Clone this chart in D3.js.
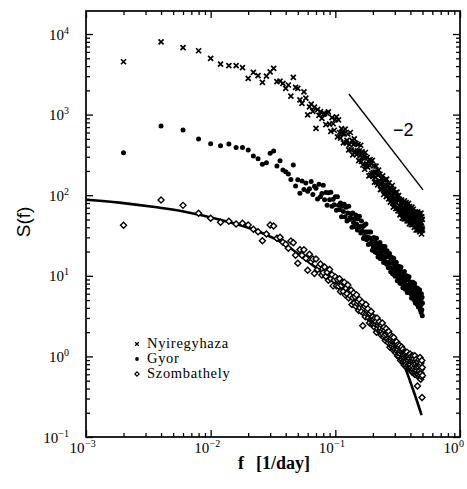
<!DOCTYPE html>
<html><head><meta charset="utf-8">
<script src="https://cdn.jsdelivr.net/npm/d3@7"></script>
<style>
html,body{margin:0;padding:0;background:#fff;}
svg{display:block;}
.serif{font-family:"Liberation Serif","DejaVu Serif",serif;}
.sans{font-family:"Liberation Sans","DejaVu Sans",sans-serif;}
</style></head>
<body>
<svg id="chart" width="467" height="489"></svg>
<script>
// ---------- data ----------
const freq = [
0.002,0.004,0.006,0.008,0.010,0.012,0.014,0.016,0.018,0.020,
0.022,0.024,0.026,0.028,0.030,0.032,0.034,0.036,0.038,0.040,
0.042,0.044,0.046,0.048,0.050,0.052,0.054,0.056,0.058,0.060,
0.062,0.064,0.066,0.068,0.070,0.072,0.074,0.076,0.078,0.080,
0.082,0.084,0.086,0.088,0.090,0.092,0.094,0.096,0.098,0.100,
0.102,0.104,0.106,0.108,0.110,0.112,0.114,0.116,0.118,0.120,
0.122,0.124,0.126,0.128,0.130,0.132,0.134,0.136,0.138,0.140,
0.142,0.144,0.146,0.148,0.150,0.152,0.154,0.156,0.158,0.160,
0.162,0.164,0.166,0.168,0.170,0.172,0.174,0.176,0.178,0.180,
0.182,0.184,0.186,0.188,0.190,0.192,0.194,0.196,0.198,0.200,
0.202,0.204,0.206,0.208,0.210,0.212,0.214,0.216,0.218,0.220,
0.222,0.224,0.226,0.228,0.230,0.232,0.234,0.236,0.238,0.240,
0.242,0.244,0.246,0.248,0.250,0.252,0.254,0.256,0.258,0.260,
0.262,0.264,0.266,0.268,0.270,0.272,0.274,0.276,0.278,0.280,
0.282,0.284,0.286,0.288,0.290,0.292,0.294,0.296,0.298,0.300,
0.302,0.304,0.306,0.308,0.310,0.312,0.314,0.316,0.318,0.320,
0.322,0.324,0.326,0.328,0.330,0.332,0.334,0.336,0.338,0.340,
0.342,0.344,0.346,0.348,0.350,0.352,0.354,0.356,0.358,0.360,
0.362,0.364,0.366,0.368,0.370,0.372,0.374,0.376,0.378,0.380,
0.382,0.384,0.386,0.388,0.390,0.392,0.394,0.396,0.398,0.400,
0.402,0.404,0.406,0.408,0.410,0.412,0.414,0.416,0.418,0.420,
0.422,0.424,0.426,0.428,0.430,0.432,0.434,0.436,0.438,0.440,
0.442,0.444,0.446,0.448,0.450,0.452,0.454,0.456,0.458,0.460,
0.462,0.464,0.466,0.468,0.470,0.472,0.474,0.476,0.478,0.480,
0.482,0.484,0.486,0.488,0.490,0.492,0.494,0.496,0.498,0.500];

const nyiregyhaza = [
4530,8000,6760,6200,4990,4240,4050,4050,3820,2820,
3350,3040,2510,3010,3400,3750,2560,2610,2440,2120,
2330,1700,2900,2180,2120,1520,1380,1920,1600,990,
1250,1350,1100,1240,676,1150,980,1090,900,1010,
1030,750,1040,1080,760,620,920,770,640,870,
940,530,860,600,510,670,580,445,580,660,
445,480,575,365,425,600,365,480,317,427,
500,350,440,318,355,427,268,354,307,417,
262,345,237,290,303,210,339,229,246,294,
223,263,174,235,276,178,245,186,270,170,
191,231,145,194,168,230,145,193,134,178,
205,140,151,182,117,137,162,119,147,174,
124,102,154,130,111,155,133,96,158,111,
99,131,115,90,142,119,94,82,124,100,
113,92,132,80,100,71,117,83,105,77,
88,107,68,91,80,109,69,92,64,86,
99,68,74,89,57,67,80,59,73,87,
62,52,79,67,58,81,70,51,85,61,
55,74,65,51,81,68,55,48,73,59,
67,55,79,48,61,44,72,52,66,49,
56,68,43,58,52,71,46,61,43,58,
67,46,50,61,40,47,56,41,52,62,
44,37,57,48,42,59,51,37,62,44,
40,53,47,37,59,50,40,35,54,44,
50,41,60,37,46,33,54,39,50,37];

const gyor = [
337,722,644,498,435,411,431,392,392,364,
306,284,242,253,331,353,230,268,205,196,
183,157,237,130,155,106,150,118,142,112,
120,148,102,129,122,90,137,96,105,133,
88,108,75,107,88,109,73,89,76,96,
65,96,75,66,80,54,73,63,77,54,
71,48,60,73,50,53,59,40,60,46,
51,41,57,44,37,51,40,55,41,34,
48,36,41,29,42,31,35,44,28,35,
30,24.5,35,29.4,25,35,25.4,28.6,20.8,29.3,
22.8,29.9,24.5,19.8,26.1,22.1,29.3,19.2,23.3,17.1,
24.8,18.7,21.4,25.9,16.3,19.5,21.8,16.4,23.2,17.6,
20.1,14.6,21.4,16.7,23.1,15.1,17.3,19.2,13.9,20.4,
14.7,17.4,12.6,18.4,14.5,18.9,12.6,15,11.2,16.1,
17,11.9,14.2,10.6,14.7,12.3,16.5,10.4,12.4,14.3,
9.9,13.1,11,14.7,10.1,11.8,8.7,13.2,10.5,12.1,
9.1,13,9.9,11,8.1,11.7,8.9,12.9,9.6,8,
10.8,8.6,9.7,7.1,11,7.9,9.8,7.3,11.3,8.4,
8.9,6.8,9.9,7.7,9,7,10,7.6,6.2,9,
6.9,9.2,7.6,6.2,9.7,7,7.9,6.2,8.2,6.5,
8.3,6,7.2,5.3,8.3,6.4,7.4,5.4,6.6,8.3,
5.7,7,5.1,7.3,5.8,8,5.2,6.3,4.6,7.1,
5.6,7.1,4.8,6.2,5.1,6.4,4.4,7,5.3,4.6,
6,4.1,6.3,4.9,5.5,4.2,6.7,4.6,5.5,3.8,
5.9,4.3,5.1,3.5,6,4.5,3.8,5.4,3.2,4.6];

const szombathely = [
42.4,87,74.8,59.6,51.7,46.1,47.5,44,44.8,42.7,
37.8,35.3,27.2,33,42.7,41.5,29.2,30,26,24.6,
22,27,25.7,18,14.3,21,18,21,16.5,11.7,
18.5,15,16.2,10.7,16.2,12,13.1,14,10.2,10.9,
12.9,9.8,11.1,8.8,12,9.2,10.3,7.5,8.9,9.7,
7.5,9,7.4,9.2,6.4,7.6,8.3,6.4,8.3,5.8,
7,6,7.7,5.3,6.6,5.6,6.6,4.4,5.35,6.1,
4.6,5.5,4.2,5.8,4.5,4.8,3.7,5.1,4,4.5,
3.6,4.7,2.4,4,3.4,4.2,3.1,4.4,3.4,3.7,
3.9,3,3.4,2.6,3.4,2.9,3.6,2.5,2.9,3.1,
2.5,2.9,2.3,3,2.5,2.7,2.0,3,2.2,2.45,
2.6,2.06,2.7,2.1,2.25,1.86,2.45,2.07,2.6,1.9,
2.17,1.73,2.3,1.82,2.1,1.57,1.89,2.2,1.65,1.98,
1.65,1.96,1.48,2.04,1.59,1.73,1.3,1.84,1.41,1.58,
1.68,1.33,1.76,1.4,1.52,1.19,1.72,1.28,1.37,1.51,
1.2,1.52,1.1,1.35,1.52,1.17,1.36,1.01,1.21,1.4,
1.09,1.31,0.99,1.37,1.09,1.17,0.89,1.24,0.95,1.31,
0.92,1.13,0.97,1.23,0.85,1.04,1.13,0.78,0.96,1.12,
0.85,1.05,0.78,1.11,0.87,0.96,0.73,1.13,0.82,0.96,
1.02,0.77,0.89,0.72,1.04,0.8,0.94,0.72,1.07,0.79,
0.87,0.7,1.0,0.73,0.89,0.64,0.95,0.76,1.02,0.69,
0.87,0.63,0.93,0.72,0.8,0.6,1.02,0.68,0.86,0.64,
0.81,0.59,0.92,0.67,0.73,0.61,0.85,0.43,0.77,0.62,
0.85,0.6,0.74,0.55,0.91,0.66,0.78,0.57,0.97,0.62,
0.76,0.52,0.83,0.62,0.7,0.56,0.89,0.31,0.73,0.58];

// fitted curve
const fitFreq = [0.001,0.00185,0.00343,0.00634,0.0117,0.0217,0.0402,0.0581,0.080,0.148,0.274,0.351,0.422,0.492];
const fitS    = [88,81,72,62,50,37.8,24.1,15.7,10.7,4.77,1.6,0.82,0.38,0.187];

// slope -2 guide line
const guideFreq = [0.1285, 0.505];
const guideS    = [1800, 116.6];

const seriesNames = ["Nyiregyhaza","Gyor","Szombathely"];
const xTickExponents = [-3,-2,-1,0];
const yTickExponents = [-1,0,1,2,3,4];

// ---------- layout ----------
const svg = d3.select("#chart");
const M = {left:86, top:11};
const W = 374, H = 426;
const g = svg.append("g").attr("transform",`translate(${M.left},${M.top})`);

const x = d3.scaleLog().domain([1e-3, 1]).range([0, W]);
const y = d3.scaleLog().domain([0.1, 19300]).range([H, 0]);

// ---------- ticks (inward, all four sides) ----------
const xAll = x.ticks();
const isMajor = v => Math.abs(Math.log10(v) - Math.round(Math.log10(v))) < 1e-9;
const xMajor = xAll.filter(isMajor), xMinor = xAll.filter(v => !isMajor(v));
const yAll = y.ticks().filter(v => v <= 1e4 + 1);
const yMajor = yAll.filter(isMajor), yMinor = yAll.filter(v => !isMajor(v));

function addAxis(axisGen, transform, values, size) {
  const a = g.append("g").attr("transform", transform)
    .call(axisGen.tickValues(values).tickSize(size).tickSizeOuter(0).tickFormat(""));
  a.select(".domain").remove();
  a.selectAll("line").attr("stroke","#000").attr("stroke-width",1.3);
}
addAxis(d3.axisBottom(x), `translate(0,${H})`, xMinor, -4);
addAxis(d3.axisBottom(x), `translate(0,${H})`, xMajor, -7);
addAxis(d3.axisTop(x), `translate(0,0)`, xMinor, -4);
addAxis(d3.axisTop(x), `translate(0,0)`, xMajor, -7);
addAxis(d3.axisLeft(y), `translate(0,0)`, yMinor, -4);
addAxis(d3.axisLeft(y), `translate(0,0)`, yMajor, -7);
addAxis(d3.axisRight(y), `translate(${W},0)`, yMinor, -4);
addAxis(d3.axisRight(y), `translate(${W},0)`, yMajor, -7);

// frame
g.append("rect").attr("x",0).attr("y",0).attr("width",W).attr("height",H)
  .attr("fill","none").attr("stroke","#000").attr("stroke-width",1.7);

// tick labels
xTickExponents.forEach(e => {
  const px = x(Math.pow(10,e));
  g.append("text").attr("class","serif").attr("x",px-1.5).attr("y",H+16).attr("text-anchor","end")
    .attr("font-size",15).attr("fill","#000").text("10");
  g.append("text").attr("class","serif").attr("x",px-1).attr("y",H+10).attr("text-anchor","start")
    .attr("font-size",10).attr("fill","#000")
    .text(e < 0 ? "\u2212" + Math.abs(e) : String(e));
});
yTickExponents.forEach(e => {
  const py = y(Math.pow(10,e));
  const t = g.append("text").attr("class","serif").attr("x",-17).attr("y",py+5.5)
    .attr("text-anchor","end").attr("fill","#000");
  t.append("tspan").attr("font-size",15).text("10");
  t.append("tspan").attr("font-size",10).attr("dy",-6)
    .text(e < 0 ? "\u2212" + Math.abs(e) : String(e));
});

// axis titles
svg.append("text").attr("class","sans").attr("transform","translate(30,222) rotate(-90)")
  .attr("text-anchor","middle").attr("font-size",19)
  .attr("fill","#000").text("S(f)");
svg.append("text").attr("class","serif").attr("x",238).attr("y",469)
  .attr("font-weight","bold").attr("font-size",18).attr("fill","#000").text("f");
svg.append("text").attr("class","serif").attr("x",256).attr("y",469)
  .attr("font-weight","bold").attr("font-size",18).attr("fill","#000").text("[1/day]");

// ---------- fitted curve ----------
const fitData = fitFreq.map((f,i)=>({f, s: fitS[i]}));
g.append("path").datum(fitData)
  .attr("d", d3.line().x(d=>x(d.f)).y(d=>y(d.s)).curve(d3.curveMonotoneX))
  .attr("fill","none").attr("stroke","#000").attr("stroke-width",2.6);

// guide line -2
g.append("line")
  .attr("x1", x(guideFreq[0])).attr("y1", y(guideS[0]))
  .attr("x2", x(guideFreq[1])).attr("y2", y(guideS[1]))
  .attr("stroke","#000").attr("stroke-width",1.4);
svg.append("text").attr("class","sans").attr("x",393).attr("y",136)
  .attr("font-size",18).attr("fill","#000").text("\u22122");

// ---------- markers ----------
function crossPath(r){ return `M${-r},${-r}L${r},${r}M${-r},${r}L${r},${-r}`; }
function diamondPath(r){ return `M0,${-r}L${r},0L0,${r}L${-r},0Z`; }

const nData = freq.map((f,i)=>({f, s:nyiregyhaza[i]}));
const gData = freq.map((f,i)=>({f, s:gyor[i]}));
const zData = freq.map((f,i)=>({f, s:szombathely[i]}));

g.append("g").selectAll("path").data(nData).join("path")
  .attr("transform", d=>`translate(${x(d.f)},${y(d.s)})`)
  .attr("d", crossPath(2.5)).attr("stroke","#000").attr("stroke-width",1.7).attr("fill","none");

g.append("g").selectAll("circle").data(gData).join("circle")
  .attr("cx", d=>x(d.f)).attr("cy", d=>y(d.s)).attr("r",2.5).attr("fill","#000");

g.append("g").selectAll("path").data(zData).join("path")
  .attr("transform", d=>`translate(${x(d.f)},${y(d.s)})`)
  .attr("d", diamondPath(3)).attr("stroke","#000").attr("stroke-width",1.4).attr("fill","#fff");

// ---------- legend ----------
const legend = svg.append("g");
const legY = [348, 363, 378];
legend.append("path").attr("transform",`translate(137,${legY[0]-4})`)
  .attr("d",crossPath(1.8)).attr("stroke","#000").attr("stroke-width",1.3);
legend.append("circle").attr("cx",137).attr("cy",legY[1]-4).attr("r",1.9).attr("fill","#000");
legend.append("path").attr("transform",`translate(137,${legY[2]-4})`)
  .attr("d",diamondPath(2.2)).attr("stroke","#000").attr("stroke-width",1.1).attr("fill","#fff");
seriesNames.forEach((n,i)=>{
  legend.append("text").attr("class","serif").attr("x",147).attr("y",legY[i])
    .attr("font-size",14.5).attr("letter-spacing",0.7).attr("fill","#000").text(n);
});
</script>
</body></html>
